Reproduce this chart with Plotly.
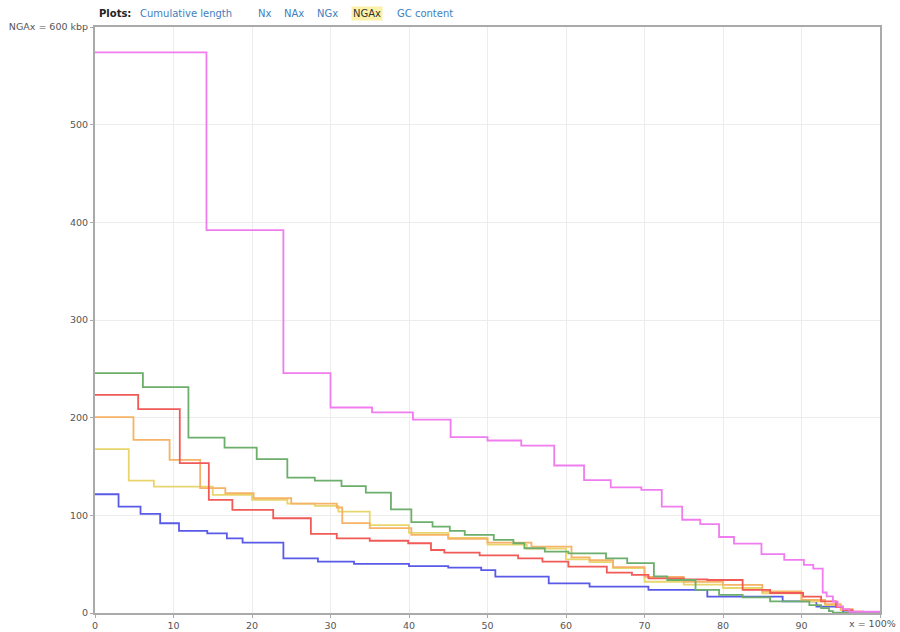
import plotly.graph_objects as go

# NGAx curves: x = percent of reference covered, y = aligned block length (kbp)
magenta_x = [0, 14.2, 24.0, 30.0, 35.3, 40.5, 45.3, 50.0, 54.3, 58.5, 62.3, 65.7, 69.6, 72.2, 74.8,
             77.1, 79.5, 81.4, 84.9, 87.8, 90.3, 91.5, 92.7, 93.2, 94.0, 94.6, 95.3, 96.1, 100]
magenta_y = [574, 392, 245.6, 210.4, 205.5, 198, 180, 176.6, 171.4, 151, 136, 128.7, 126, 109, 95.5,
             91, 77.8, 71, 60.3, 54.3, 49.2, 45.5, 21, 17, 11.6, 6.5, 4, 1.3, 1.3]

green_x = [0, 6.1, 11.9, 16.5, 20.6, 24.5, 28.0, 31.4, 34.5, 37.7, 40.3, 43.0, 45.2, 47.1, 50.8, 53.3,
           54.7, 57.3, 60.3, 65.1, 67.8, 71.2, 72.9, 76.5, 79.5, 82.5, 86, 91, 92.5, 93.5, 94.0, 100]
green_y = [245.6, 231.2, 179.6, 169.4, 157.5, 138.7, 135.6, 130, 123.3, 106, 93, 88.5, 84, 80, 74.8, 71.4,
           66.3, 62.8, 61, 56, 51, 37.5, 33.8, 23.6, 18.5, 16, 12, 8, 5, 2, 0.3, 0.3]

red_x = [0, 5.5, 10.8, 14.5, 17.5, 22.7, 27.5, 30.8, 35, 39.9, 42.8, 44.5, 49, 53.9, 57, 60.3, 65.2,
         68.4, 70.5, 75, 78, 82.5, 86, 90.2, 92.5, 94.4, 95.3, 96.5, 97.8, 100]
red_y = [223.4, 208.7, 153.4, 115.8, 105.5, 97, 81, 76.5, 74, 71.4, 64.5, 61.8, 59, 56, 52.6, 47.4, 41.3,
         39, 35.5, 34.5, 33.8, 23.6, 20.5, 16.7, 12, 6, 3, 1.5, 0.5, 0.5]

orange_x = [0, 4.9, 9.5, 13.4, 16.6, 20.2, 25, 30.8, 31.5, 35, 40.3, 45, 50, 55.6, 60.7, 63, 66, 70,
            75, 80, 85, 90, 93, 95, 96.5, 100]
orange_y = [200.5, 177.3, 156.8, 127.8, 122.6, 117.5, 112, 108, 92, 87, 80, 76, 72, 68, 57, 54, 47, 37,
            32, 28.7, 22, 13.3, 9, 4, 1, 0.5]

yellow_x = [0, 4.3, 7.5, 15, 20, 24.5, 28, 31, 35, 40, 45, 50, 55, 60, 63, 66, 70, 75, 80, 85, 90,
            93, 95, 96.5, 100]
yellow_y = [167.7, 135.6, 129.4, 121, 115.8, 112, 109.6, 103.8, 90, 82, 77, 70, 66, 55, 52, 46, 32,
            29, 25.6, 20, 12, 8, 3, 1, 0.5]

blue_x = [0, 3.0, 5.8, 8.3, 10.7, 14.3, 16.8, 18.8, 24.0, 28.4, 33, 40, 45, 49.2, 51.0, 57.8, 63,
          70.5, 78, 87.6, 91.9, 95.3, 100]
blue_y = [121.6, 109, 101.4, 91.9, 84, 81.6, 76.5, 72, 56, 52.6, 50.2, 48, 46.5, 44, 37.2, 30.4, 27,
          23.6, 16.7, 12, 6.5, 0.5, 0.5]

x_ticks = [0, 10, 20, 30, 40, 50, 60, 70, 80, 90, 100]
x_tick_text = ["0", "10", "20", "30", "40", "50", "60", "70", "80", "90", ""]
x_end_label = "x = 100%"
y_ticks = [0, 100, 200, 300, 400, 500, 600]
y_tick_text = ["0", "100", "200", "300", "400", "500", "NGAx = 600 kbp"]

series = [
    ("blue", blue_x, blue_y, "#5a5ae8"),
    ("yellow", yellow_x, yellow_y, "#e8d66c"),
    ("orange", orange_x, orange_y, "#f6b266"),
    ("red", red_x, red_y, "#f05a57"),
    ("green", green_x, green_y, "#6cae6c"),
    ("magenta", magenta_x, magenta_y, "#f07cf0"),
]

fig = go.Figure()
for name, xs, ys, color in series:
    fig.add_trace(go.Scatter(x=xs, y=ys, mode="lines", name=name,
                             line=dict(color=color, width=1.8, shape="hv")))

W, H = 900, 632
ml, mr, mt, mb = 95, 20, 27, 19
pw = W - ml - mr
ph = H - mt - mb

fig.update_layout(
    width=W, height=H,
    margin=dict(l=ml, r=mr, t=mt, b=mb),
    paper_bgcolor="white", plot_bgcolor="white",
    showlegend=False,
    font=dict(family="DejaVu Sans", size=9, color="#444"),
)
axis_style = dict(
    showgrid=True, gridcolor="#ececec", gridwidth=1, zeroline=False,
    showline=True, linecolor="#aaaaaa", linewidth=2, mirror=True,
    ticks="outside", ticklen=3, tickcolor="#aaaaaa",
    tickfont=dict(size=9.5, color="#555"),
    automargin=False,
)
fig.update_xaxes(range=[0, 100], tickvals=x_ticks, ticktext=x_tick_text, **axis_style)
fig.update_yaxes(range=[0, 600], tickvals=y_ticks, ticktext=y_tick_text, **axis_style)

# Label of the last x tick, kept inside the page's right edge
fig.add_annotation(
    x=(W - 2 - ml) / pw, y=0, xref="paper", yref="paper",
    xanchor="right", yanchor="top", yshift=-3, showarrow=False,
    text=x_end_label, font=dict(size=9.5, color="#555", family="DejaVu Sans"),
)

# Plot switcher header above the chart
header = [
    ("Plots:", 97, "#222", True, None),
    ("Cumulative length", 138, "#3d80c0", False, None),
    ("Nx", 256, "#3d80c0", False, None),
    ("NAx", 282, "#3d80c0", False, None),
    ("NGx", 315, "#3d80c0", False, None),
    ("NGAx", 351, "#333", False, "#fbf1a8"),
    ("GC content", 395, "#3d80c0", False, None),
]
y_hdr = 1 + (mt - 13) / ph
for text, px, color, bold, bg in header:
    fig.add_annotation(
        x=(px - ml) / pw, y=y_hdr, xref="paper", yref="paper",
        xanchor="left", yanchor="middle", showarrow=False,
        text=f"<b>{text}</b>" if bold else text,
        font=dict(size=10, color=color, family="DejaVu Sans"),
        bgcolor=bg, borderpad=1,
    )

fig.write_html("out.html")
